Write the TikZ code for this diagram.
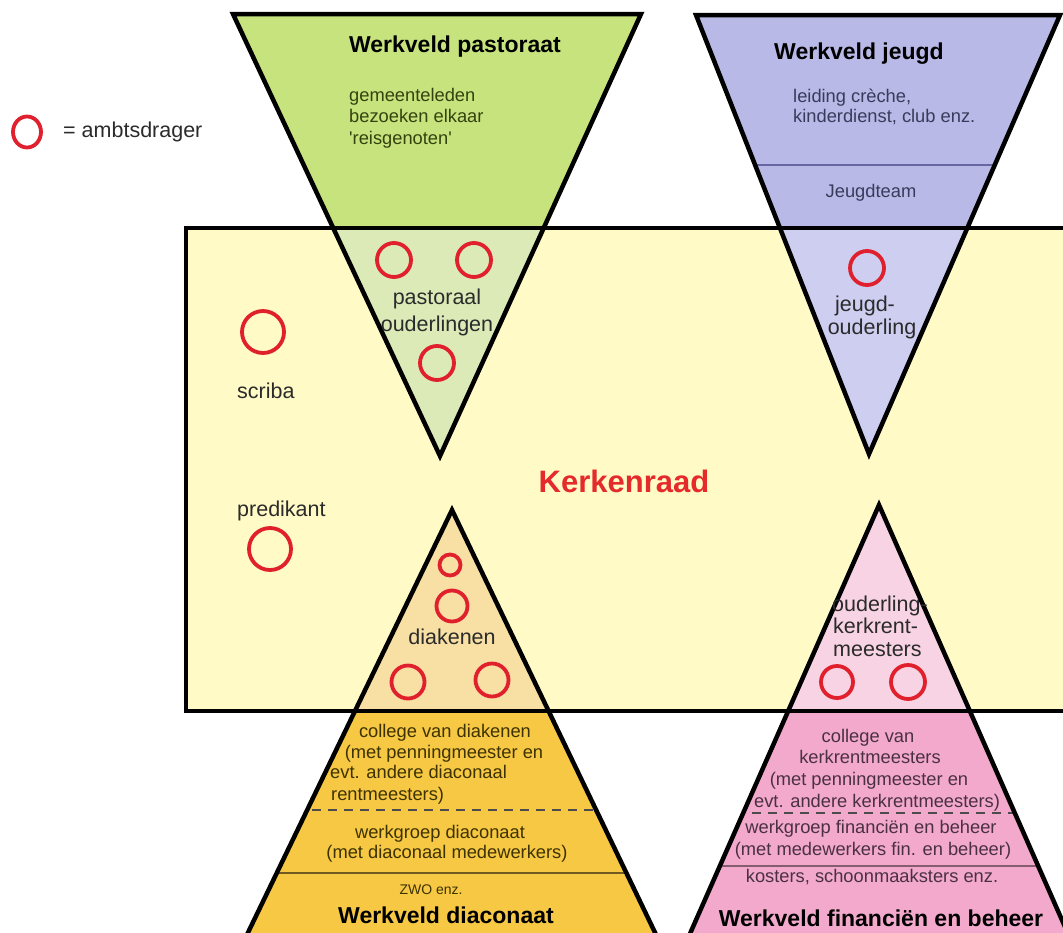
\documentclass[tikz,border=0pt]{standalone}
\usepackage{fontspec}
\setmainfont{Liberation Sans}
\newfontfamily\rawsans{Liberation Sans}
\definecolor{rectfill}{HTML}{FFFAC6}
\definecolor{greentop}{HTML}{C7E37D}
\definecolor{greenin}{HTML}{DCEAB8}
\definecolor{bluetop}{HTML}{B8B9E6}
\definecolor{bluein}{HTML}{CDCEF0}
\definecolor{orangein}{HTML}{F8E0A4}
\definecolor{orangetop}{HTML}{F6C844}
\definecolor{pinkin}{HTML}{F8D3E3}
\definecolor{pinktop}{HTML}{F3A9CC}
\definecolor{ambred}{HTML}{E0202C}
\definecolor{krred}{HTML}{E42A2A}
\definecolor{txt}{HTML}{2B2B2B}
\definecolor{greentxt}{HTML}{34420F}
\definecolor{bluetxt}{HTML}{3A3A5C}
\definecolor{orangetxt}{HTML}{3D3200}
\definecolor{pinktxt}{HTML}{4A3042}
\begin{document}
\begin{tikzpicture}[x=1pt,y=-1pt,
  ring/.style={draw=ambred, line width=3.8pt, circle, inner sep=0pt},
  triline/.style={draw=black, line width=4.5pt, line join=miter},
  divline/.style={line width=1.3pt},
  sm/.style={font=\fontsize{18.3}{21}\selectfont, inner sep=0pt},
  md/.style={font=\fontsize{21.5}{24}\selectfont, inner sep=0pt, text=txt},
  ttl/.style={font=\fontsize{23}{26}\selectfont\bfseries, inner sep=0pt, text=black},
]
\useasboundingbox (0,0) rectangle (1063,932);
\clip (0,0) rectangle (1063,932);
\fill[white] (0,0) rectangle (1063,932);

% Kerkenraad rectangle corners
\coordinate (R1) at (186,228);
\coordinate (R2) at (1085,711);
\fill[rectfill] (R1) rectangle (R2);

% triangle corners
\coordinate (G1) at (233,14);  \coordinate (G2) at (641,14);  \coordinate (G3) at (440,456);
\coordinate (B1) at (696,15);  \coordinate (B2) at (1060,15); \coordinate (B3) at (869,454);
\coordinate (O1) at (452,510); \coordinate (O2) at (242,945); \coordinate (O3) at (661,945);
\coordinate (P1) at (879,505); \coordinate (P2) at (685,945); \coordinate (P3) at (1073,945);

% fills
\fill[greentop] (G1) -- (G2) -- (G3) -- cycle;
\fill[bluetop] (B1) -- (B2) -- (B3) -- cycle;
\fill[orangetop] (O1) -- (O2) -- (O3) -- cycle;
\fill[pinktop] (P1) -- (P2) -- (P3) -- cycle;
\begin{scope}
  \clip (R1) rectangle (R2);
  \fill[greenin] (G1) -- (G2) -- (G3) -- cycle;
  \fill[bluein] (B1) -- (B2) -- (B3) -- cycle;
  \fill[orangein] (O1) -- (O2) -- (O3) -- cycle;
  \fill[pinkin] (P1) -- (P2) -- (P3) -- cycle;
\end{scope}

% divider lines
\coordinate (bdL) at (600,165); \coordinate (bdR) at (1100,165);
\coordinate (odL) at (200,810); \coordinate (odR) at (700,810);
\coordinate (osL) at (200,873); \coordinate (osR) at (700,873);
\coordinate (pdL) at (640,813); \coordinate (pdR) at (1100,813);
\coordinate (psL) at (640,866); \coordinate (psR) at (1100,866);
\begin{scope}
  \clip (B1) -- (B2) -- (B3) -- cycle;
  \draw[divline, draw=black!60!blue!60] (bdL) -- (bdR);
\end{scope}
\begin{scope}
  \clip (O1) -- (O2) -- (O3) -- cycle;
  \draw[divline, draw=black!70, dash pattern=on 9pt off 7pt] (odL) -- (odR);
  \draw[divline, draw=black!55!orangetop] (osL) -- (osR);
\end{scope}
\begin{scope}
  \clip (P1) -- (P2) -- (P3) -- cycle;
  \draw[divline, draw=black!70, dash pattern=on 9pt off 7pt] (pdL) -- (pdR);
  \draw[divline, draw=black!45!pinktop] (psL) -- (psR);
\end{scope}

% outlines
\draw[triline] (G1) -- (G2) -- (G3) -- cycle;
\draw[triline] (B1) -- (B2) -- (B3) -- cycle;
\draw[triline] (O1) -- (O2) -- (O3) -- cycle;
\draw[triline] (P1) -- (P2) -- (P3) -- cycle;
\draw[line width=4.5pt] (R1) rectangle (R2);

% legend
\draw[draw=ambred, line width=3.8pt] (27,132) ellipse [x radius=14, y radius=15.5];
\node[md, anchor=base west] (leg) at (63,137) {= ambtsdrager};

% Kerkenraad
\node[font=\fontsize{31}{34}\selectfont\bfseries, text=krred, inner sep=0pt, anchor=base] (kr) at (624,492) {Kerkenraad};

% left officers
\node[ring, minimum size=42pt] (cs) at (263,332) {};
\node[md, anchor=base west] (scriba) at (237,398) {scriba};
\node[md, anchor=base west] (pred) at (237,516) {predikant};
\node[ring, minimum size=42pt] (cp) at (270,549) {};

% pastoraat
\node[ttl, anchor=base] (gt) at (455,52) {Werkveld pastoraat};
\node[sm, text=greentxt, anchor=base west] (g1) at (349,101) {gemeenteleden};
\node[sm, text=greentxt, anchor=base west] (g2) at (349,122) {bezoeken elkaar};
\node[sm, text=greentxt, anchor=base west] (g3) at (349,144) {{\rawsans '}reisgenoten{\rawsans '}};
\node[ring, minimum size=34pt] (gc1) at (394,260) {};
\node[ring, minimum size=34pt] (gc2) at (474,260) {};
\node[md, anchor=base] (past1) at (437,304) {pastoraal};
\node[md, anchor=base] (past2) at (437,331) {ouderlingen};
\node[ring, minimum size=34pt] (gc3) at (437,363) {};

% jeugd
\node[ttl, anchor=base] (bt) at (859,59) {Werkveld jeugd};
\node[sm, text=bluetxt, anchor=base west] (b1) at (793,102) {leiding crèche,};
\node[sm, text=bluetxt, anchor=base west] (b2) at (793,122) {kinderdienst, club enz.};
\node[sm, text=bluetxt, anchor=base] (b3) at (871,197) {Jeugdteam};
\node[ring, minimum size=34pt] (bc1) at (867,268) {};
\node[md, anchor=base] (j1) at (865,311) {jeugd-};
\node[md, anchor=base] (j2) at (872,334) {ouderling};

% diaconaat
\node[ring, minimum size=21pt] (oc1) at (450,565) {};
\node[ring, minimum size=31pt] (oc2) at (452,606) {};
\node[md, anchor=base] (diak) at (452,644) {diakenen};
\node[ring, minimum size=33pt] (oc3) at (408,682) {};
\node[ring, minimum size=33pt] (oc4) at (492,680) {};
\node[sm, text=orangetxt, anchor=base] (o1) at (445,737) {college van diakenen};
\node[sm, text=orangetxt, anchor=base] (o2) at (444,758) {(met penningmeester en};
\node[sm, text=orangetxt, anchor=base west] (o3) at (330,778) {evt. andere diaconaal};
\node[sm, text=orangetxt, anchor=base west] (o4) at (331,800) {rentmeesters)};
\node[sm, text=orangetxt, anchor=base] (o5) at (440,838) {werkgroep diaconaat};
\node[sm, text=orangetxt, anchor=base] (o6) at (447,858) {(met diaconaal medewerkers)};
\node[font=\fontsize{14}{16}\selectfont, text=orangetxt, inner sep=0pt, anchor=base] (o7) at (431,894) {ZWO enz.};
\node[ttl, anchor=base] (ot) at (446,923) {Werkveld diaconaat};

% financien en beheer
\node[md, anchor=base west] (p1) at (832,611) {ouderling-};
\node[md, anchor=base west] (p2) at (833,633) {kerkrent-};
\node[md, anchor=base west] (p3) at (833,656) {meesters};
\node[ring, minimum size=32pt] (pc1) at (837,682) {};
\node[ring, minimum size=34pt] (pc2) at (908,682) {};
\node[sm, text=pinktxt, anchor=base] (q1) at (868,742) {college van};
\node[sm, text=pinktxt, anchor=base] (q2) at (870,763) {kerkrentmeesters};
\node[sm, text=pinktxt, anchor=base] (q3) at (869,785) {(met penningmeester en};
\node[sm, text=pinktxt, anchor=base] (q4) at (877,807) {evt. andere kerkrentmeesters)};
\node[sm, text=pinktxt, anchor=base] (q5) at (871,833) {werkgroep financiën en beheer};
\node[sm, text=pinktxt, anchor=base] (q6) at (873,855) {(met medewerkers fin. en beheer)};
\node[sm, text=pinktxt, anchor=base] (q7) at (872,882) {kosters, schoonmaaksters enz.};
\node[ttl, anchor=base] (pt) at (881,926) {Werkveld financiën en beheer};
\end{tikzpicture}
\end{document}
